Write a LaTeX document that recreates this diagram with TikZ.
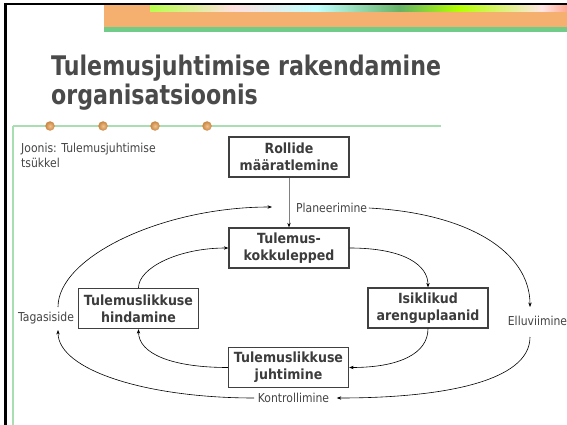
\documentclass[tikz,border=0pt]{standalone}
\usepackage{fontspec}
\setmainfont{DejaVu Sans}
\newfontfamily\lblfont{DejaVu Sans}[FakeStretch=0.88]
\newfontfamily\boxfont{DejaVu Sans}[FakeStretch=0.9]
\newfontfamily\ttlfont{DejaVu Sans}[FakeStretch=0.82]
\usetikzlibrary{arrows.meta}
\definecolor{ttlgray}{HTML}{4A4A4A}
\definecolor{boxgray}{HTML}{404040}
\definecolor{boxtext}{HTML}{3C3C3C}
\definecolor{lbltext}{HTML}{444444}
\definecolor{bandorange}{HTML}{F5B070}
\definecolor{bandgreen}{HTML}{70CC88}
\definecolor{lightgreen}{HTML}{A8DEB2}
\definecolor{copper}{HTML}{C8843F}
\definecolor{copperlight}{HTML}{F0C28E}
\pgfdeclarehorizontalshading{flowers}{100bp}{color(0bp)=(bandorange); color(12bp)=(yellow!50!white); color(25bp)=(green!40!yellow!70); color(35bp)=(pink!50); color(45bp)=(cyan!25); color(55bp)=(green!50!black!60); color(62bp)=(yellow!70!green); color(72bp)=(pink!40); color(80bp)=(red!50!orange); color(88bp)=(purple!60); color(100bp)=(red!70!black)}
\tikzset{
  box/.style={draw=boxgray, line width=1.3pt, fill=white, minimum width=120pt,
    minimum height=40pt, inner sep=0pt, align=center, text=boxtext,
    font=\boxfont\bfseries\fontsize{14}{17}\selectfont},
  lbl/.style={font=\lblfont\fontsize{12.3}{14}\selectfont, text=lbltext, inner sep=1.5pt},
  conn/.style={line width=0.6pt, draw=black, -{Stealth[length=4.5pt,width=3.4pt]}},
  ttl/.style={font=\ttlfont\bfseries\fontsize{27}{29}\selectfont, text=ttlgray, inner sep=0pt, anchor=base west},
  dot/.style={circle, inner sep=0pt, minimum size=9.5pt, inner color=copperlight, outer color=copper}
}
\begin{document}
\begin{tikzpicture}[x=1pt,y=1pt]
\useasboundingbox (0,0) rectangle (567,-425);
\fill[white] (0,0) rectangle (567,-425);
% header band
\fill[bandorange] (104,-5) rectangle (567,-27);
\shade[shading=flowers] (150,-5) rectangle (567,-11.5);
\fill[bandgreen] (104,-27) rectangle (567,-32);
% frame lines
\draw[black, line width=2.2pt] (4,-4.3) -- (567,-4.3);
\draw[black, line width=3.5pt] (5.5,-3) -- (5.5,-425);
\draw[lightgreen, line width=1.3pt] (13,-126) -- (441,-126);
\draw[lightgreen, line width=1.3pt] (13,-126) -- (13,-425);
\node[dot] (d1) at (50,-126) {};
\node[dot] (d2) at (103,-126) {};
\node[dot] (d3) at (155,-126) {};
\node[dot] (d4) at (207,-126) {};
% title
\node[ttl] (t1) at (51,-76) {Tulemusjuhtimise rakendamine};
\node[ttl] (t2) at (51,-105) {organisatsioonis};
% caption
\node[lbl, anchor=base west, inner sep=0pt] (j1) at (21,-152) {Joonis: Tulemusjuhtimise};
\node[lbl, anchor=base west, inner sep=0pt] (j2) at (21,-167) {tsükkel};
% boxes
\node[box] (rol) at (289,-157) {Rollide\\määratlemine};
\node[box] (tk) at (289,-248) {Tulemus-\\kokkulepped};
\node[box] (hin) at (138.5,-308.5) {Tulemuslikkuse\\hindamine};
\node[box] (isi) at (428,-308) {Isiklikud\\arenguplaanid};
\node[box] (jh) at (288.5,-367.5) {Tulemuslikkuse\\juhtimine};
% outer labels
\node[lbl, anchor=west] (pl) at (294.5,-208) {Planeerimine};
\node[lbl] (el) at (537.5,-321) {Elluviimine};
\node[lbl] (ko) at (293.5,-398) {Kontrollimine};
\node[lbl] (ta) at (46,-318) {Tagasiside};
\coordinate (elN) at (530,-307);
\coordinate (elS) at (530,-337);
\coordinate (taN) at (58,-307);
\coordinate (taS) at (58,-330);
\coordinate (plW) at (272,-207);
% vertical arrow
\draw[line width=0.8pt, draw=black!50, -{Stealth[length=4.5pt,width=3.4pt,color=black]}] (rol.south) -- (tk.north);
% outer loop
\draw[conn] (pl.east) to[out=-3, in=90, out distance=100pt, in distance=55pt] (elN);
\draw[conn, shorten >=6pt] (elS) to[out=-90, in=0, out distance=45pt, in distance=110pt] (ko.east);
\draw[conn, shorten <=2pt] (ko.west) to[out=180, in=-90, out distance=110pt, in distance=40pt] (taS);
\draw[conn] (taN) to[out=90, in=180, out distance=50pt, in distance=110pt] (plW);
% inner loop
\draw[conn] (tk.east) to[out=0, in=90, out distance=55pt, in distance=22pt] (isi.north);
\draw[conn] (isi.south) to[out=-90, in=0, out distance=25pt, in distance=50pt] (jh.east);
\draw[conn] (jh.west) to[out=180, in=-90, out distance=55pt, in distance=25pt] (hin.south);
\draw[conn] (hin.north) to[out=90, in=180, out distance=20pt, in distance=50pt] (tk.west);
\end{tikzpicture}
\end{document}
